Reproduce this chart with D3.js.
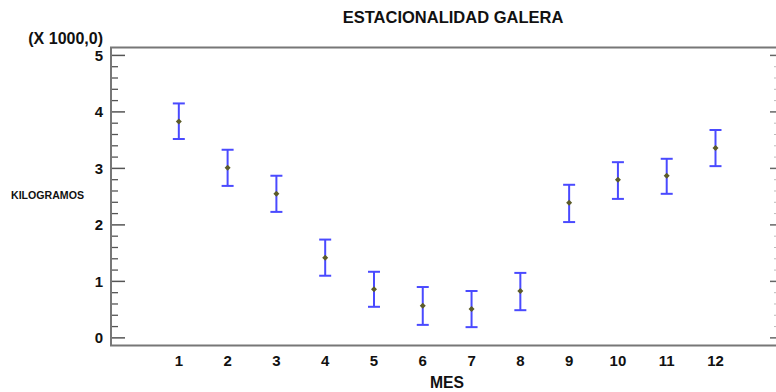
<!DOCTYPE html>
<html><head><meta charset="utf-8">
<script src="https://cdn.jsdelivr.net/npm/d3@7"></script>
<style>body{margin:0;background:#fff}svg{display:block}text{font-family:"Liberation Sans",Arial,sans-serif;font-weight:bold;fill:#111}</style>
</head><body><div id="chart"></div>
<script>
const months = [1,2,3,4,5,6,7,8,9,10,11,12];
const means  = [3.83,3.01,2.55,1.42,0.86,0.57,0.51,0.83,2.39,2.80,2.87,3.36];
const lower  = [3.52,2.69,2.23,1.10,0.55,0.23,0.19,0.49,2.05,2.46,2.55,3.04];
const upper  = [4.15,3.33,2.87,1.74,1.17,0.90,0.83,1.15,2.71,3.11,3.17,3.68];
const yTicks = [0,1,2,3,4,5];
const title = "ESTACIONALIDAD GALERA";
const yLabel = "KILOGRAMOS";
const xLabel = "MES";
const yScaleNote = "(X 1000,0)";

const W = 776, H = 392;
const L = 111, R = 776, T = 47.5, B = 345.5;
const svg = d3.select("#chart").append("svg").attr("width", W).attr("height", H);

const x = d3.scaleLinear().domain([-0.39, 13.24]).range([L, R]);
const y = d3.scaleLinear().domain([-0.135, 5.14]).range([B, T]);

const minor = d3.range(0, 5.0001, 0.2).filter(v => Math.abs(v - Math.round(v)) > 1e-6);
const g = svg.append("g");
g.selectAll("line.minL").data(minor).join("line")
  .attr("x1", L).attr("x2", L + 7).attr("y1", d => y(d)).attr("y2", d => y(d))
  .attr("stroke", "#555").attr("stroke-width", 1.3);
g.selectAll("line.majL").data(yTicks).join("line")
  .attr("x1", L).attr("x2", L + 14).attr("y1", d => y(d)).attr("y2", d => y(d))
  .attr("stroke", "#555").attr("stroke-width", 1.5);
g.selectAll("line.minR").data(minor).join("line")
  .attr("x1", R - 2).attr("x2", R).attr("y1", d => y(d)).attr("y2", d => y(d))
  .attr("stroke", "#bbb").attr("stroke-width", 1);
g.selectAll("line.majR").data(yTicks).join("line")
  .attr("x1", R - 6).attr("x2", R).attr("y1", d => y(d)).attr("y2", d => y(d))
  .attr("stroke", "#666").attr("stroke-width", 1.5);

svg.append("path").attr("d", `M${R},${T}H${L}V${B}H${R}`)
  .attr("fill", "none").attr("stroke", "#777").attr("stroke-width", 2);

svg.selectAll("text.yt").data(yTicks).join("text")
  .attr("x", L - 8).attr("y", d => y(d)).attr("dy", "0.36em")
  .attr("text-anchor", "end").attr("font-size", 15).text(d => d);

svg.selectAll("text.xt").data(months).join("text")
  .attr("x", d => x(d)).attr("y", 366)
  .attr("text-anchor", "middle").attr("font-size", 15).text(d => d);

svg.append("text").attr("x", 453).attr("y", 23).attr("text-anchor", "middle")
  .attr("font-size", 16.5).text(title);
svg.append("text").attr("x", 103).attr("y", 44).attr("text-anchor", "end")
  .attr("font-size", 16).text(yScaleNote);
svg.append("text").attr("x", 11).attr("y", 199).attr("font-size", 10.6).text(yLabel);
svg.append("text").attr("x", 447).attr("y", 388).attr("text-anchor", "middle")
  .attr("font-size", 15.7).text(xLabel);

const data = months.map((m, i) => ({m, mean: means[i], lo: lower[i], hi: upper[i]}));
const eb = svg.append("g").attr("stroke", "#4a4aff").attr("stroke-width", 2);
eb.selectAll("line.v").data(data).join("line")
  .attr("x1", d => x(d.m)).attr("x2", d => x(d.m))
  .attr("y1", d => y(d.lo)).attr("y2", d => y(d.hi));
eb.selectAll("line.t").data(data).join("line")
  .attr("x1", d => x(d.m) - 6).attr("x2", d => x(d.m) + 6)
  .attr("y1", d => y(d.hi)).attr("y2", d => y(d.hi));
eb.selectAll("line.b").data(data).join("line")
  .attr("x1", d => x(d.m) - 6).attr("x2", d => x(d.m) + 6)
  .attr("y1", d => y(d.lo)).attr("y2", d => y(d.lo));

svg.selectAll("path.pt").data(data).join("path")
  .attr("transform", d => `translate(${x(d.m)},${y(d.mean)})`)
  .attr("d", "M0,-3L3,0L0,3L-3,0Z")
  .attr("fill", "#5c5c28");
</script></body></html>
